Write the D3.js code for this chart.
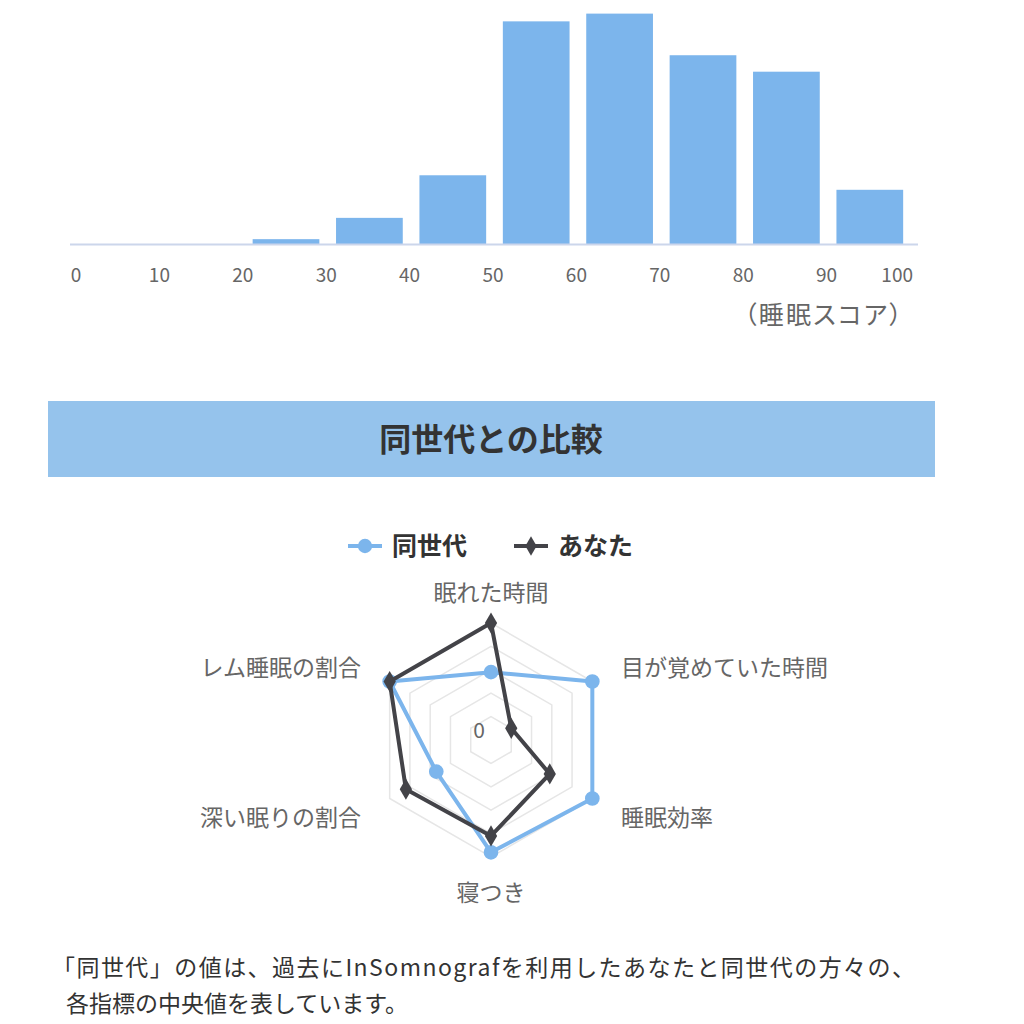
<!DOCTYPE html>
<html>
<head>
<meta charset="utf-8">
<script src="https://cdnjs.cloudflare.com/ajax/libs/d3/7.8.5/d3.min.js"></script>
<style>
  html, body { margin: 0; padding: 0; background: #fff; }
  svg { display: block; font-family: "Noto Sans CJK JP", "Noto Sans", sans-serif; }
  .palt { font-feature-settings: "palt"; }
</style>
</head>
<body>
<svg id="chart" width="1024" height="1024"></svg>
<script>
// histogram: share of users per score bin (%)
var binStarts = [0, 10, 20, 30, 40, 50, 60, 70, 80, 90];
var binShares = [0, 0, 0.5, 2.7, 7.1, 23.0, 23.8, 19.5, 17.8, 5.6];
var scoreTicks = [0, 10, 20, 30, 40, 50, 60, 70, 80, 90, 100];

// radar
var radarAxes = ["眠れた時間", "目が覚めていた時間", "睡眠効率", "寝つき", "深い眠りの割合", "レム睡眠の割合"];
var peerValues = [2.9, 5.0, 5.0, 4.8, 2.7, 5.0];
var youValues  = [5.0, 1.0, 2.9, 4.1, 4.2, 5.0];
var radarLevels = [1, 2, 3, 4, 5];

var blue = "#7cb5ec", dark = "#434348";
var svg = d3.select("#chart");

//
//  HISTOGRAM
//
var baseY = 244;
var xLin = d3.scaleLinear().domain([0, 100]).range([77.5, 911.5]);
var xBand = d3.scaleBand().domain(binStarts).range([77.5, 911.5]).paddingInner(0.2).paddingOuter(0.1);
var yHist = d3.scaleLinear().domain([0, 25]).range([baseY, 2]);

svg.append("g").selectAll("rect")
  .data(binStarts)
  .enter().append("rect")
    .attr("x", function(d) { return xBand(d); })
    .attr("width", xBand.bandwidth())
    .attr("y", function(d, i) { return yHist(binShares[i]); })
    .attr("height", function(d, i) { return baseY - yHist(binShares[i]); })
    .attr("fill", blue);

svg.append("line")
  .attr("x1", 70).attr("x2", 918)
  .attr("y1", baseY + 0.5).attr("y2", baseY + 0.5)
  .attr("stroke", "#ccd6eb").attr("stroke-width", 2);

var tickG = svg.append("g").attr("fill", "#666").attr("font-size", 19);
tickG.selectAll("text")
  .data(scoreTicks)
  .enter().append("text")
    .attr("x", function(d) { return xLin(d) - 1.5; })
    .attr("y", 282)
    .attr("text-anchor", "middle")
    .text(function(d) { return d; })
    .each(function() {
      // keep the last label inside the plot like the original
      var bb = this.getBBox();
      if (bb.x + bb.width > 913) d3.select(this).attr("x", +d3.select(this).attr("x") - (bb.x + bb.width - 913));
    });

svg.append("text")
  .attr("class", "palt")
  .attr("x", 902).attr("y", 324)
  .attr("text-anchor", "end")
  .attr("textLength", 158).attr("lengthAdjust", "spacing")
  .attr("fill", "#666").attr("font-size", 25)
  .text("（睡眠スコア）");

//
//  BANNER
//
svg.append("rect")
  .attr("x", 48).attr("y", 401).attr("width", 887).attr("height", 76)
  .attr("fill", "#95c3ec");
svg.append("text")
  .attr("x", 491).attr("y", 451)
  .attr("text-anchor", "middle")
  .attr("font-size", 32).attr("font-weight", "bold").attr("fill", "#333")
  .text("同世代との比較");

//
//  LEGEND
//
var legend = svg.append("g");
var legItems = [
  { name: "同世代", color: blue, shape: d3.symbolCircle, x: 348 },
  { name: "あなた", color: dark, shape: d3.symbolDiamond, x: 514 }
];
legItems.forEach(function(it) {
  var g = legend.append("g").attr("transform", "translate(" + it.x + ",546)");
  g.append("line").attr("x1", 0).attr("x2", 34).attr("stroke", it.color).attr("stroke-width", 4);
  g.append("path").attr("d", d3.symbol().type(it.shape).size(it.shape === d3.symbolCircle ? 160 : 110)())
    .attr("transform", "translate(17,0)").attr("fill", it.color);
  g.append("text").attr("x", 44).attr("y", 0).attr("dy", "0.36em")
    .attr("font-size", 25).attr("font-weight", "bold").attr("fill", "#333")
    .text(it.name);
});

//
//  RADAR
//
var cx = 491, cy = 740, R = 117;
var rScale = d3.scaleLinear().domain([0, 5]).range([0, R]);
var ang = function(i) { return i * 2 * Math.PI / radarAxes.length; };
var pt = function(i, v) {
  var r = rScale(v);
  return [cx + r * Math.sin(ang(i)), cy - r * Math.cos(ang(i))];
};

var grid = svg.append("g").attr("fill", "none").attr("stroke", "#e6e6e6").attr("stroke-width", 1.5);
radarLevels.forEach(function(lv) {
  grid.append("path").attr("d", d3.line()(radarAxes.map(function(a, i) { return pt(i, lv); })) + "Z");
});

svg.append("text")
  .attr("x", 485).attr("y", 738)
  .attr("text-anchor", "end")
  .attr("fill", "#666").attr("font-size", 21)
  .text("0");

var lbl = svg.append("g").attr("fill", "#666").attr("font-size", 23);
radarAxes.forEach(function(name, i) {
  var p = [cx + 150 * Math.sin(ang(i)), cy - 150 * Math.cos(ang(i))];
  var s = Math.sin(ang(i));
  lbl.append("text")
    .attr("x", p[0]).attr("y", p[1] + 3)
    .attr("dy", "0.35em")
    .attr("text-anchor", Math.abs(s) < 0.01 ? "middle" : (s > 0 ? "start" : "end"))
    .text(name);
});

function drawSeries(vals, color, shape, size) {
  var pts = vals.map(function(v, i) { return pt(i, v); });
  svg.append("path")
    .attr("d", d3.line()(pts) + "Z")
    .attr("fill", "none").attr("stroke", color).attr("stroke-width", 4)
    .attr("stroke-linejoin", "round");
  svg.append("g").selectAll("path")
    .data(pts)
    .enter().append("path")
      .attr("d", d3.symbol().type(shape).size(size)())
      .attr("transform", function(p) { return "translate(" + p[0] + "," + p[1] + ")"; })
      .attr("fill", color);
}
drawSeries(peerValues, blue, d3.symbolCircle, 170);
drawSeries(youValues, dark, d3.symbolDiamond, 130);

//
//  NOTE
//
var note = svg.append("g").attr("fill", "#333").attr("font-size", 23);
note.append("text").attr("x", 52).attr("y", 976)
  .attr("textLength", 863).attr("lengthAdjust", "spacing")
  .text("「同世代」の値は、過去にInSomnografを利用したあなたと同世代の方々の、");
note.append("text").attr("x", 66).attr("y", 1012).text("各指標の中央値を表しています。");
</script>
</body>
</html>
